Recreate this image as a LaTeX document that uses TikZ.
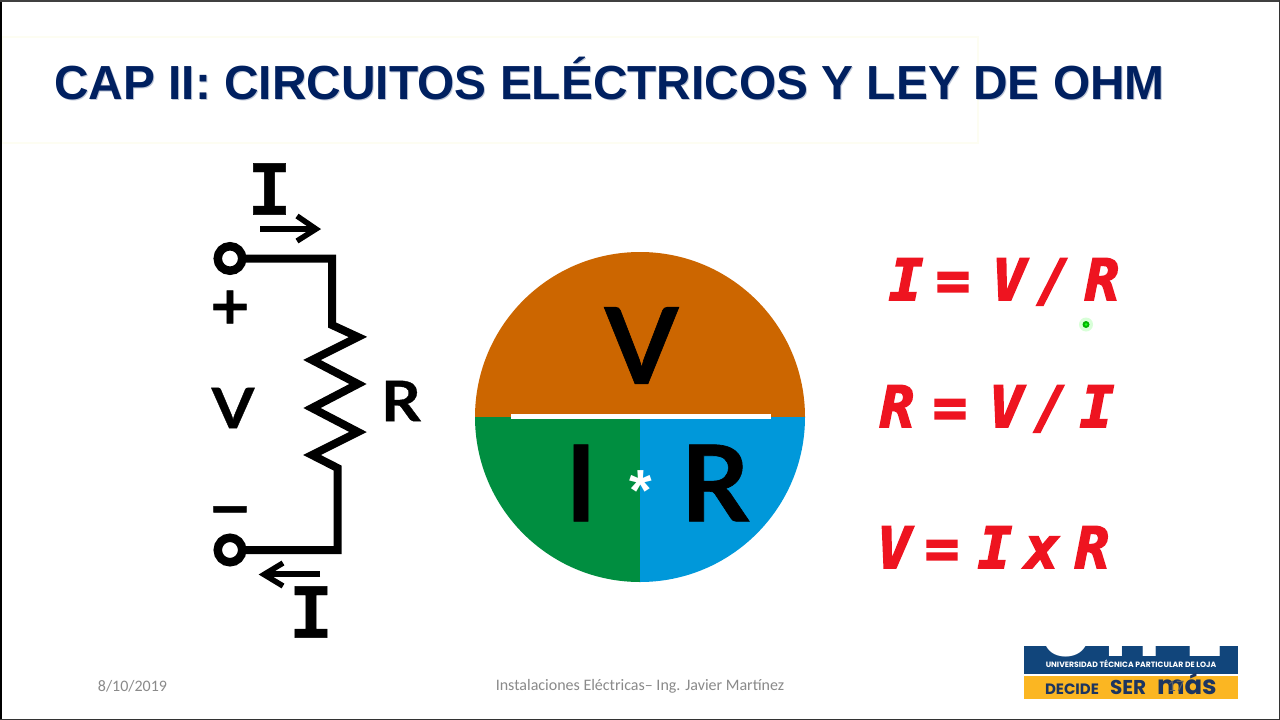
\documentclass[tikz,border=0pt]{standalone}
\usepackage{fontspec}
\setmainfont{Liberation Sans}
\newfontfamily\popf{Poppins}
\newfontfamily\latof[FakeBold=0.6]{Lato}
\newfontfamily\latowf[FakeBold=0.6,FakeStretch=1.1]{Lato}
\newfontfamily\monof[FakeStretch=0.92,FakeBold=0.6]{Liberation Mono}
\newfontfamily\djf[FakeBold=1]{DejaVu Sans}
\newfontfamily\footf{Carlito}
\newfontfamily\handf[FakeBold=3]{DejaVu Sans Mono}
\newcommand{\fsz}[1]{\fontsize{#1}{#1}\selectfont}
\newcommand{\tok}[2]{\rlap{\hspace*{#1pt}\makebox[0pt][c]{#2}}}
\usetikzlibrary{calc}
\definecolor{titleblue}{HTML}{002060}
\definecolor{orangepie}{HTML}{CC6600}
\definecolor{greenpie}{HTML}{008E40}
\definecolor{bluepie}{HTML}{0098DA}
\definecolor{handred}{HTML}{EE1420}
\definecolor{footgray}{HTML}{8A8A8A}
\definecolor{utplblue}{HTML}{11457B}
\definecolor{utplyellow}{HTML}{FBB622}
\definecolor{utpldark}{HTML}{1C3560}
\definecolor{panelrim}{HTML}{FDFDF2}
\tikzset{
  x=1pt,y=-1pt,
  lbl/.style={inner sep=0pt,outer sep=0pt,anchor=center},
  wire/.style={line width=8pt,black,line join=miter},
  terminal/.style={circle,draw=black,line width=8.5pt,minimum size=24.5pt,inner sep=0pt,outer sep=3pt},
  currentarrow/.style={line width=5.5pt,black},
  chevron/.style={line width=5.5pt,black,line join=miter},
  bigletter/.style={lbl,font=\latof\bfseries\fsz{106}},
  smallletter/.style={lbl,font=\latowf\bfseries\fsz{56}},
  serifI/.style={lbl,font=\monof\bfseries\fsz{78}},
  handline/.style={lbl,anchor=base west,text=handred,font=\handf\bfseries\itshape\fsz{57}},
  footer/.style={lbl,text=footgray,font=\footf\fsz{16}},
}
\begin{document}
\begin{tikzpicture}
\useasboundingbox (0,0) rectangle (1280,720);
\fill[white] (0,0) rectangle (1280,720);
% title panel
\draw[panelrim,line width=2pt,fill=white] (2,37) rectangle (978,143);
\node[lbl,text=titleblue!25,font=\bfseries\fsz{47.85}] at (610.5,80) {CAP II: CIRCUITOS ELÉCTRICOS Y LEY DE OHM};
\node[lbl,text=titleblue,font=\bfseries\fsz{47.85}] (title) at (609.5,79) {CAP II: CIRCUITOS ELÉCTRICOS Y LEY DE OHM};
% circuit
\node[terminal] (top) at (230,258.5) {};
\node[terminal] (bot) at (230,550) {};
\coordinate (c1) at (332,258.5);
\coordinate (c2) at (337.5,550);
\draw[wire] (top.east) -- (c1) -- (332,325) -- (358,337) -- (312,360) -- (358,384) -- (312,408) -- (358,432) -- (312,455) -- (337.5,468) -- (c2) -- (bot.east);
\coordinate (a1) at (260,229); \coordinate (a2) at (315,229);
\draw[currentarrow] (a1) -- (a2);
\draw[chevron] (297,216) -- (316,229) -- (297,241);
\coordinate (b1) at (320,574); \coordinate (b2) at (265,574);
\draw[currentarrow] (b1) -- (b2);
\draw[chevron] (283,563) -- (264,574.5) -- (283,586);
\node[serifI] (itop) at (269.5,189) {I};
\node[serifI] (ibot) at (311,612) {I};
\node[lbl,font=\djf\bfseries\fsz{52}] (plus) at (230,307) {+};
\node[lbl,font=\djf\bfseries\fsz{52}] (minus) at (230,516) {−};
\node[smallletter] (vleft) at (233,408) {V};
\node[smallletter] (rleft) at (401,401) {R};
% pie
\fill[orangepie] (475,417) arc[start angle=180,end angle=360,radius=165] -- cycle;
\fill[greenpie] (475,417) -- (640,417) -- (640,582) arc[start angle=90,end angle=180,radius=165] -- cycle;
\fill[bluepie] (805,417) -- (640,417) -- (640,582) arc[start angle=90,end angle=0,radius=165] -- cycle;
\fill[white] (511,414) rectangle (771,418.5);
\node[bigletter] (vbig) at (641.5,345.5) {V};
\node[bigletter] (ibig) at (581,483) {I};
\node[bigletter] (rbig) at (715,483) {R};
\node[lbl,text=white,font=\bfseries\fsz{58}] (star) at (640.5,491) {*};
% equations
\node[handline] (eq1) at (887,300) {\tok{19}{I}\tok{66}{=}\tok{122}{V}\tok{167}{/}\tok{215}{R}\phantom{I}};
\node[handline] (eq2) at (880,427) {\tok{17}{R}\tok{70}{=}\tok{126}{V}\tok{171}{/}\tok{217}{I}\phantom{I}};
\node[handline] (eq3) at (877,568) {\tok{17}{V}\tok{65}{=}\tok{118}{I}\tok{165}{x}\tok{215}{R}\phantom{I}};
% pointer
\fill[green!60!white,opacity=.25] (1086,324.5) circle (7);
\fill[green!70!black] (1086,324.5) circle (3.5);
\fill[green!90!white] (1086,324.5) circle (1.5);
% logo
\fill[utplblue] (1024,646) rectangle (1238,674);
\fill[utplyellow] (1024,676) rectangle (1238,699);
\begin{scope}
\clip (1024,646) rectangle (1238,674);
\node[lbl,anchor=base,text=white,font=\popf\bfseries\fsz{76}] (utpl) at (1131,656) {UTPL};
\end{scope}
\node[lbl,text=white,font=\popf\bfseries\fsz{7.7}] (uni) at (1131,663.5) {UNIVERSIDAD TÉCNICA PARTICULAR DE LOJA};
\node[lbl,anchor=base west,text=utpldark,font=\popf\bfseries\fsz{15}] (dec) at (1045,694) {DECIDE};
\node[lbl,anchor=base west,text=utpldark,font=\popf\bfseries\fsz{20}] (ser) at (1110,694.5) {SER};
\node[lbl,anchor=base west,text=utpldark,font=\popf\bfseries\fsz{26}] (mas) at (1157,694.5) {más};
\node[footer,text=footgray!70!black] (num) at (1176,686) {17};
% footer
\node[footer] (date) at (132.5,686) {8/10/2019};
\node[footer] (inst) at (640,686) {Instalaciones Eléctricas– Ing. Javier Martínez};
% frame
\fill[black] (0,0) rectangle (2,720);
\fill[black!75] (0,0) rectangle (1280,1.5);
\fill[black!80] (1279,0) rectangle (1280,720);
\fill[black!80] (0,718.8) rectangle (1280,720);
\end{tikzpicture}
\end{document}
